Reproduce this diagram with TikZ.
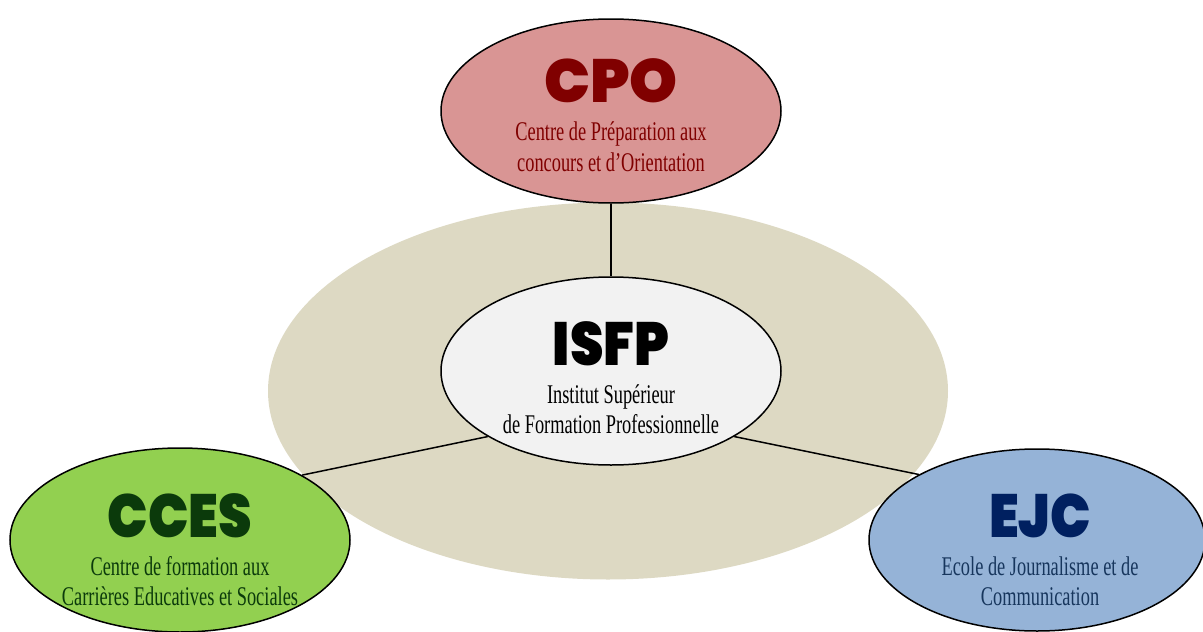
\documentclass[tikz,border=0pt]{standalone}
\usepackage{fontspec}
\usetikzlibrary{shapes.geometric}
\newfontfamily\titlefont{Poppins Black}
\newfontfamily\titlenarrow{Poppins Black}[FakeStretch=0.88]
\newfontfamily\subfont{Liberation Serif}[FakeStretch=0.68]
\definecolor{bgtan}{HTML}{DDD9C3}
\definecolor{cpofill}{HTML}{D99594}
\definecolor{cpotext}{HTML}{800000}
\definecolor{isfpfill}{HTML}{F2F2F2}
\definecolor{ccesfill}{HTML}{92D050}
\definecolor{ccestext}{HTML}{0B3A0B}
\definecolor{ejcfill}{HTML}{95B3D7}
\definecolor{ejctitle}{HTML}{002060}
\definecolor{ejcsub}{HTML}{17365D}
\tikzset{
  blob/.style={ellipse, draw=black, line width=1.5pt, inner sep=0pt,
    minimum width=340pt, minimum height=184pt},
  ttl/.style={anchor=base, inner sep=0pt, text depth=0pt, font=\titlefont\fontsize{61}{61}\selectfont},
  ttlnarrow/.style={anchor=base, inner sep=0pt, text depth=0pt, font=\titlenarrow\fontsize{61}{61}\selectfont},
  sub/.style={anchor=base, inner sep=0pt, text height=18pt, text depth=5pt, font=\subfont\fontsize{27}{31}\selectfont},
  link/.style={draw=black, line width=1.5pt}
}
\begin{document}
\begin{tikzpicture}[x=1pt,y=-1pt]
\useasboundingbox (0,0) rectangle (1203,632);
\node[ellipse, fill=bgtan, inner sep=0pt, minimum width=680pt, minimum height=377pt] (bg) at (608,391) {};
\node[blob, fill=cpofill] (cpo) at (611,111) {};
\node[blob, fill=isfpfill, minimum height=188pt] (isfp) at (611,371) {};
\node[blob, fill=ccesfill] (cces) at (180,540) {};
\node[blob, fill=ejcfill, minimum width=336pt, minimum height=182pt] (ejc) at (1037,540) {};
\draw[link] (cpo.south) -- (isfp.north);
\draw[link] (isfp.208) -- (cces.28);
\draw[link] (isfp.-28) -- (ejc.151);
% texts
\node[ttl, text=cpotext] (cpot) at (611,102) {CPO};
\node[sub, text=cpotext] (cpos1) at (611,140) {Centre de Préparation aux};
\node[sub, text=cpotext] (cpos2) at (611,171) {concours et d’Orientation};
\node[ttlnarrow, text=black] (isfpt) at (611,365) {ISFP};
\node[sub, text=black] (isfps1) at (611,403) {Institut Supérieur};
\node[sub, text=black] (isfps2) at (611,433) {de Formation Professionnelle};
\node[ttlnarrow, text=ccestext] (ccest) at (180,537) {CCES};
\node[sub, text=ccestext] (ccess1) at (180,575) {Centre de formation aux};
\node[sub, text=ccestext] (ccess2) at (180,605) {Carrières Educatives et Sociales};
\node[ttlnarrow, text=ejctitle] (ejct) at (1040,537) {EJC};
\node[sub, text=ejcsub] (ejcs1) at (1040,575) {Ecole de Journalisme et de};
\node[sub, text=ejcsub] (ejcs2) at (1040,605) {Communication};
\end{tikzpicture}
\end{document}
